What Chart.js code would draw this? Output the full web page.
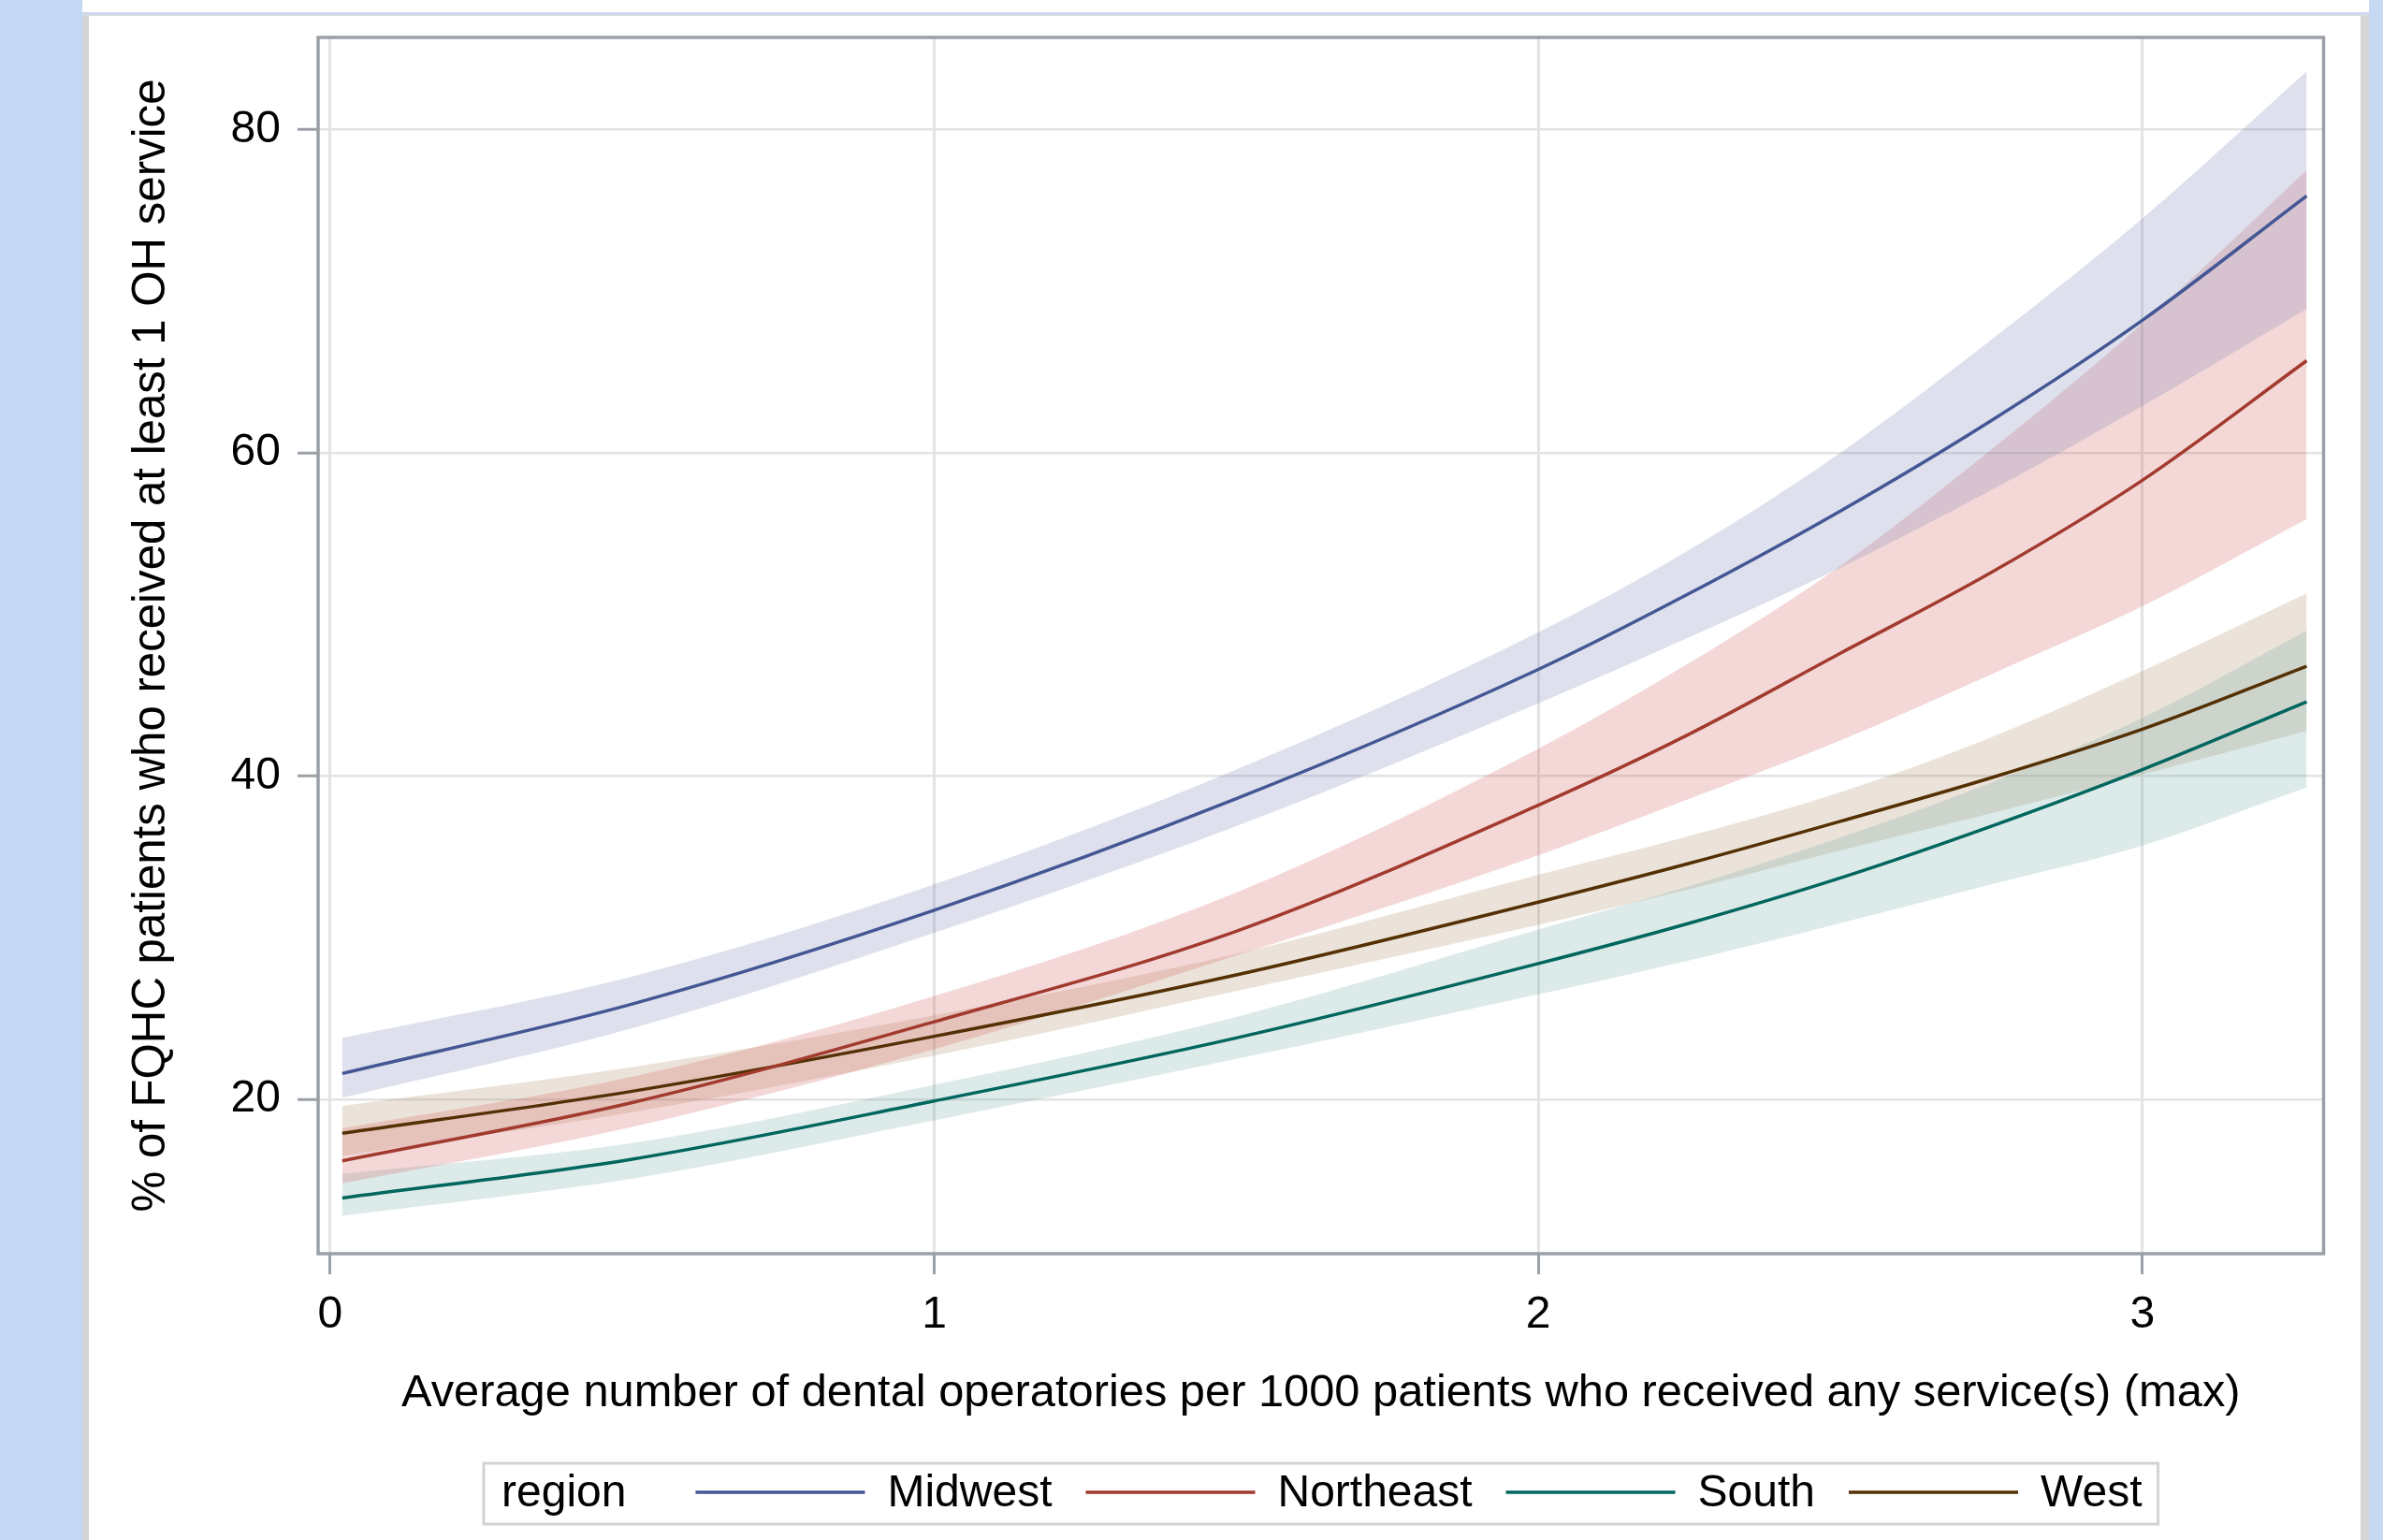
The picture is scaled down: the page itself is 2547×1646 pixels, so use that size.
<!DOCTYPE html>
<html>
<head>
<meta charset="utf-8">
<script src="https://cdn.jsdelivr.net/npm/chart.js@4.4.1/dist/chart.umd.min.js"></script>
<style>
  html, body { margin: 0; padding: 0; }
  body { width: 2547px; height: 1646px; background: #c6d9f4; position: relative; overflow: hidden; }
  #topband { position: absolute; left: 88px; top: 0; width: 2444px; height: 13px; background: #fff; }
  #topline { position: absolute; left: 88px; top: 13px; width: 2444px; height: 3px; background: #cdd9ee; }
  #panel { position: absolute; left: 88px; top: 16px; width: 2428px; height: 1640px; background: #fff;
           border-left: 7px solid #d5d5d5; border-right: 9px solid #d5d5d5; border-top: 1px solid #dedede; }
  #chart { position: absolute; left: 0; top: 0; }
</style>
</head>
<body>
<div id="topband"></div>
<div id="topline"></div>
<div id="panel"></div>
<canvas id="chart" width="2547" height="1646"></canvas>
<script>
// x positions (operatories per 1000 patients)
const xValues = [0.02, 0.5, 1, 1.5, 2, 2.25, 2.5, 2.75, 3, 3.272];

const midwestMean  = [21.6, 25.9, 31.7, 38.6, 46.6, 51.3, 56.4, 62.0, 68.2, 75.9];
const midwestUpper = [23.8, 27.6, 33.3, 40.4, 48.9, 54.0, 60.0, 67.0, 74.5, 83.6];
const midwestLower = [20.1, 24.4, 30.3, 36.9, 44.5, 48.6, 52.9, 57.7, 62.9, 68.9];

const northeastMean  = [16.2, 19.8, 24.8, 30.4, 38.2, 42.6, 47.6, 52.6, 58.3, 65.7];
const northeastUpper = [18.2, 21.4, 26.4, 32.8, 41.7, 47.0, 53.0, 60.2, 68.0, 77.5];
const northeastLower = [14.8, 18.3, 23.1, 28.9, 35.1, 38.6, 42.2, 46.3, 50.5, 55.9];

const southMean  = [13.9, 16.3, 19.9, 23.8, 28.4, 30.9, 33.7, 36.9, 40.4, 44.6];
const southUpper = [15.4, 17.3, 20.9, 25.1, 30.5, 33.2, 36.2, 39.6, 43.6, 49.0];
const southLower = [12.8, 15.1, 18.7, 22.5, 26.5, 28.6, 30.9, 33.3, 35.7, 39.3];

const westMean  = [17.9, 20.5, 23.9, 27.7, 32.2, 34.6, 37.2, 39.9, 42.9, 46.8];
const westUpper = [19.6, 22.0, 25.2, 29.0, 33.9, 36.3, 39.0, 42.4, 46.5, 51.3];
const westLower = [16.5, 19.2, 22.7, 26.7, 30.8, 33.0, 35.4, 37.7, 40.1, 42.8];

const xTicks = [0, 1, 2, 3];
const yTicks = [20, 40, 60, 80];

const legendTitle = 'region';
const xTitle = 'Average number of dental operatories per 1000 patients who received any service(s) (max)';
const yTitle = '% of FQHC patients who received at least 1 OH service';

const family = "'Liberation Sans', Arial, sans-serif";

const regions = [
  { name: 'Midwest',   mean: midwestMean,   upper: midwestUpper,   lower: midwestLower,   line: '#445694', fill: 'rgba(111,126,179,0.23)' },
  { name: 'Northeast', mean: northeastMean, upper: northeastUpper, lower: northeastLower, line: '#A23A2E', fill: 'rgba(208,91,91,0.24)' },
  { name: 'South',     mean: southMean,     upper: southUpper,     lower: southLower,     line: '#01665E', fill: 'rgba(102,165,160,0.23)' },
  { name: 'West',      mean: westMean,      upper: westUpper,      lower: westLower,      line: '#543005', fill: 'rgba(169,134,91,0.23)' }
];

const pts = arr => arr.map((y, i) => ({ x: xValues[i], y: y }));

const datasets = [];
regions.forEach(r => {
  datasets.push({ label: r.name + ' upper', data: pts(r.upper), borderWidth: 0, pointRadius: 0,
                  backgroundColor: r.fill, fill: '+1', cubicInterpolationMode: 'monotone' });
  datasets.push({ label: r.name + ' lower', data: pts(r.lower), borderWidth: 0, pointRadius: 0,
                  fill: false, cubicInterpolationMode: 'monotone' });
});
regions.forEach(r => {
  datasets.push({ label: r.name, isLine: true, data: pts(r.mean), borderColor: r.line, borderWidth: 3.5,
                  pointRadius: 0, fill: false, cubicInterpolationMode: 'monotone' });
});

// box round the plot area
const frame = {
  id: 'frame',
  afterDraw(chart) {
    const { ctx, chartArea: a } = chart;
    ctx.save();
    ctx.strokeStyle = '#9ba0a6';
    ctx.lineWidth = 3.5;
    ctx.strokeRect(a.left, a.top, a.right - a.left, a.bottom - a.top);
    ctx.restore();
  }
};

// SAS style legend: "region" then line samples
const regionLegend = {
  id: 'regionLegend',
  afterDraw(chart) {
    const ctx = chart.ctx;
    const items = chart.data.datasets.filter(d => d.isLine);
    const sample = 181, gapText = 24, gapItem = 36, padL = 19, padR = 17, gapTitle = 74, h = 65;
    ctx.save();
    ctx.font = '48px ' + family;
    let w = padL + ctx.measureText(legendTitle).width + gapTitle + padR;
    items.forEach((d, i) => {
      w += sample + gapText + ctx.measureText(d.label).width + (i < items.length - 1 ? gapItem : 0);
    });
    const cx = (chart.chartArea.left + chart.chartArea.right) / 2;
    const top = chart.height - 82;
    let x = cx - w / 2;
    ctx.strokeStyle = '#d3d3d3';
    ctx.lineWidth = 3;
    ctx.strokeRect(x, top, w, h);
    const cy = top + h / 2;
    ctx.fillStyle = '#000';
    ctx.textBaseline = 'middle';
    ctx.textAlign = 'left';
    x += padL;
    ctx.fillText(legendTitle, x, cy);
    x += ctx.measureText(legendTitle).width + gapTitle;
    items.forEach(d => {
      ctx.strokeStyle = d.borderColor;
      ctx.lineWidth = 3.5;
      ctx.beginPath();
      ctx.moveTo(x, cy - 1.5);
      ctx.lineTo(x + sample, cy - 1.5);
      ctx.stroke();
      x += sample + gapText;
      ctx.fillText(d.label, x, cy);
      x += ctx.measureText(d.label).width + gapItem;
    });
    ctx.restore();
  }
};

new Chart(document.getElementById('chart').getContext('2d'), {
  type: 'line',
  data: { datasets: datasets },
  plugins: [frame, regionLegend],
  options: {
    responsive: false,
    animation: false,
    devicePixelRatio: 1,
    events: [],
    layout: { padding: { left: 0, top: 40, right: 63.5, bottom: 0 } },
    plugins: {
      legend: { display: false },
      tooltip: { enabled: false },
      filler: { drawTime: 'beforeDatasetsDraw' }
    },
    scales: {
      x: {
        type: 'linear',
        min: -0.02,
        max: 3.3,
        afterBuildTicks: s => { s.ticks = xTicks.map(v => ({ value: v })); },
        afterFit: s => { s.height = 306; s.paddingLeft = 0; s.paddingRight = 0; },
        ticks: { font: { size: 48, family: family }, color: '#000', padding: 15, maxRotation: 0 },
        grid: { color: '#e3e3e3', lineWidth: 3, tickLength: 22, tickColor: '#9ba0a6', tickWidth: 3 },
        border: { display: false },
        title: { display: true, text: xTitle, color: '#000', font: { size: 48.8, family: family },
                 padding: { top: 0, bottom: 127 } }
      },
      y: {
        type: 'linear',
        min: 10.45,
        max: 85.7,
        afterBuildTicks: s => { s.ticks = yTicks.map(v => ({ value: v })); },
        afterFit: s => { s.width = 340; s.paddingTop = 0; s.paddingBottom = 0; },
        ticks: { font: { size: 48, family: family }, color: '#000', padding: 18 },
        grid: { color: '#e3e3e3', lineWidth: 2.5, tickLength: 22, tickColor: '#9ba0a6', tickWidth: 3 },
        border: { display: false },
        title: { display: true, text: yTitle, color: '#000', font: { size: 49.2, family: family },
                 padding: { top: 133, bottom: 0 } }
      }
    }
  }
});
</script>
</body>
</html>
